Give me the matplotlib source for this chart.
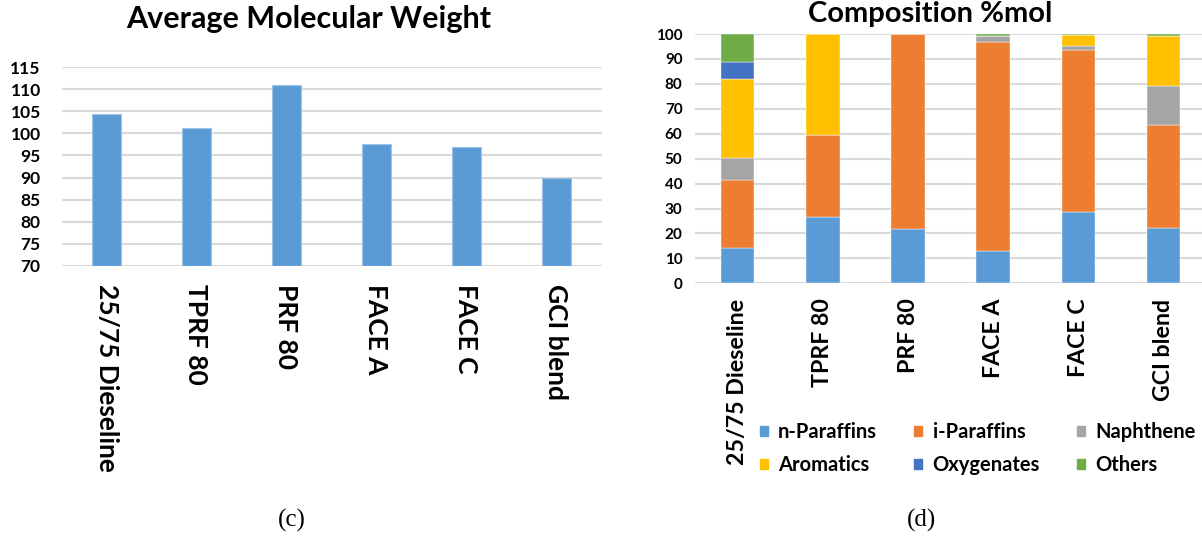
import numpy as np
import matplotlib
matplotlib.use("Agg")
import matplotlib.pyplot as plt
from matplotlib.patches import Patch

fuels = ["25/75 Dieseline", "TPRF 80", "PRF 80", "FACE A", "FACE C", "GCI blend"]
mol_weight = [104.4, 101.3, 110.9, 97.5, 97.0, 90.0]

# composition in %mol, one list per component class
n_paraffins = [14.3, 26.5, 21.9, 13.1, 28.5, 22.3]
i_paraffins = [27.0, 32.9, 78.1, 83.8, 65.2, 41.2]
naphthene = [8.8, 0.0, 0.0, 2.3, 1.5, 15.8]
aromatics = [31.9, 40.6, 0.0, 0.0, 4.3, 19.8]
oxygenates = [6.9, 0.0, 0.0, 0.0, 0.0, 0.0]
others = [11.1, 0.0, 0.0, 0.8, 0.5, 0.9]

components = ["n-Paraffins", "i-Paraffins", "Naphthene", "Aromatics", "Oxygenates", "Others"]
colors = ["#5B9BD5", "#ED7D31", "#A5A5A5", "#FFC000", "#4472C4", "#70AD47"]

plt.rcParams["font.family"] = ["Lato", "DejaVu Sans"]
plt.rcParams["font.weight"] = "bold"

fig = plt.figure(figsize=(12.02, 5.39), dpi=100)
W, H = 1202, 539

def px_axes(x0, y0, x1, y1):
    return fig.add_axes([x0 / W, 1 - y1 / H, (x1 - x0) / W, (y1 - y0) / H])

grid_col = "#D9D9D9"
x = np.arange(len(fuels))

# (c) average molecular weight
ax1 = px_axes(61.5, 67.3, 601.5, 265.7)
ax1.bar(x, [v - 70 for v in mol_weight], bottom=70, width=0.315,
        color="#5B9BD5", edgecolor="#9DC3E6", linewidth=0.8, zorder=3)
ax1.set_ylim(70, 115)
ax1.set_xlim(-0.5, 5.5)
ax1.set_yticks(np.arange(70, 116, 5))
ax1.yaxis.grid(True, color=grid_col, linewidth=1.5, zorder=0)
ax1.set_xticks(x)
ax1.set_xticklabels(fuels, rotation=270, fontsize=19, fontweight="bold",
                    va="top", ha="center")
ax1.tick_params(axis="x", length=0, pad=13)
ax1.tick_params(axis="y", length=0, pad=15, labelsize=12.5)
for s in ax1.spines.values():
    s.set_visible(False)
fig.text(309 / W, 1 - 27.7 / H, "Average Molecular Weight", ha="center", va="baseline",
         fontsize=22, fontweight="bold")

# (d) composition stacked bars
ax2 = px_axes(695, 34, 1202, 283.3)
bottom = np.zeros(len(fuels))
series = [n_paraffins, i_paraffins, naphthene, aromatics, oxygenates, others]
for vals, col in zip(series, colors):
    ax2.bar(x, vals, bottom=bottom, width=0.395, color=col,
            edgecolor="white", linewidth=0.3, zorder=3)
    bottom += np.array(vals)
ax2.set_ylim(0, 100)
ax2.set_xlim(-0.5, 5.45)
ax2.set_yticks(np.arange(0, 101, 10))
ax2.yaxis.grid(True, color=grid_col, linewidth=1.5, zorder=0)
ax2.set_xticks(x)
ax2.set_xticklabels(fuels, rotation=90, fontsize=16.7, fontweight="bold",
                    va="top", ha="center")
ax2.tick_params(axis="x", length=0, pad=11)
ax2.tick_params(axis="y", length=0, pad=9, labelsize=11)
for s in ax2.spines.values():
    s.set_visible(False)
fig.text(930 / W, 1 - 21.7 / H, "Composition %mol", ha="center", va="baseline",
         fontsize=21, fontweight="bold")

# legend, filled row by row
handles = [Patch(color=c, label=l) for c, l in zip(colors, components)]
order = [0, 3, 1, 4, 2, 5]
fig.legend([handles[i] for i in order], [components[i] for i in order],
           ncol=3, loc="upper left", bbox_to_anchor=(760 / W, 1 - 422 / H),
           frameon=False, fontsize=14.5, handlelength=0.4, handleheight=0.4,
           handletextpad=0.5, columnspacing=1.85, labelspacing=0.65,
           borderpad=0, borderaxespad=0)

fig.text(292 / W, 1 - 520 / H, "(c)", ha="center", va="center",
         fontsize=18, fontweight="normal", family="Liberation Serif")
fig.text(921 / W, 1 - 520 / H, "(d)", ha="center", va="center",
         fontsize=18, fontweight="normal", family="Liberation Serif")

fig.savefig("out.png", dpi=100, facecolor="white")
